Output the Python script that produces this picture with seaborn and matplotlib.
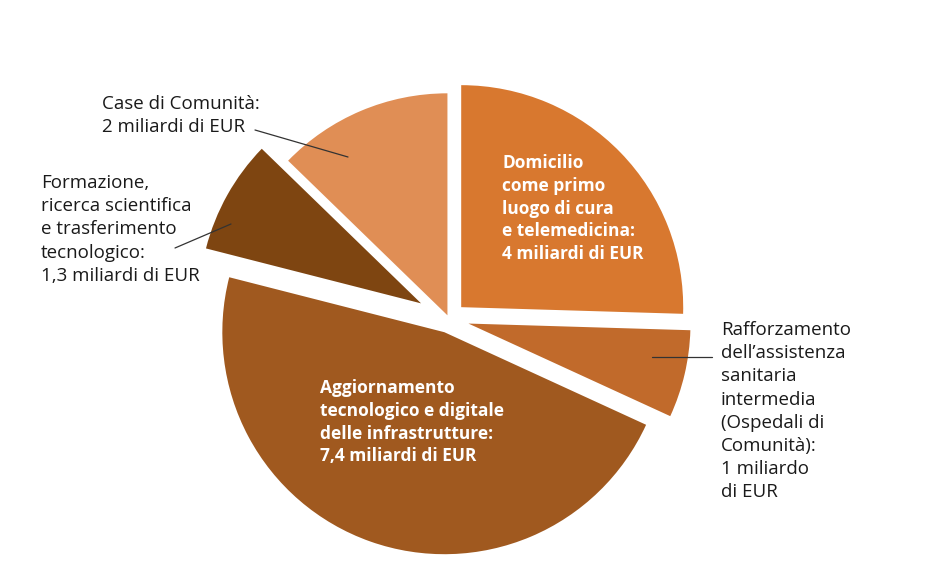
import matplotlib
matplotlib.use("Agg")
import matplotlib.pyplot as plt
import seaborn as sns

# values in billion EUR, clockwise from 12 o'clock
categories = ["Domicilio", "Rafforzamento", "Aggiornamento", "Formazione", "Case"]
values = [4.0, 1.0, 7.4, 1.3, 2.0]
colors = ["#D8782F", "#C16A2B", "#A0591F", "#7E4511", "#E08E55"]
explode_px = [17, 20, 14, 32, 4]

sns.set_theme(style="white")
plt.rcParams["font.family"] = ["Open Sans", "DejaVu Sans"]

W, H = 945, 582
fig = plt.figure(figsize=(W / 100, H / 100), dpi=100)
ax = fig.add_axes([0, 0, 1, 1])

# work in pixel units (y up)
cx, cy, r = 449, H - 319, 222
ax.pie(values, colors=colors, explode=explode_px, center=(cx, cy), radius=r,
       startangle=90, counterclock=False, wedgeprops=dict(linewidth=0))
ax.set_xlim(0, W)
ax.set_ylim(0, H)
ax.set_aspect("equal")
ax.axis("off")

txt = dict(fontsize=13.5, color="#1a1a1a", va="top", ha="left", linespacing=1.37)
bold = dict(fontsize=12.5, color="white", va="top", ha="left", linespacing=1.34,
            fontweight="bold")

ax.text(102, H - 95, "Case di Comunità:\n2 miliardi di EUR", **txt)
ax.text(41, H - 174, "Formazione,\nricerca scientifica\ne trasferimento\ntecnologico:\n1,3 miliardi di EUR", **txt)
ax.text(721, H - 321, "Rafforzamento\ndell’assistenza\nsanitaria\nintermedia\n(Ospedali di\nComunità):\n1 miliardo\ndi EUR", **txt)
ax.text(502, H - 154, "Domicilio\ncome primo\nluogo di cura\ne telemedicina:\n4 miliardi di EUR", **bold)
ax.text(320, H - 379, "Aggiornamento\ntecnologico e digitale\ndelle infrastrutture:\n7,4 miliardi di EUR", **bold)

lk = dict(color="#333333", lw=0.9)
ax.plot([255, 348], [H - 130, H - 157], **lk)
ax.plot([175, 231], [H - 248, H - 224], **lk)
ax.plot([652, 712], [H - 357, H - 357], **lk)

fig.savefig("out.png", dpi=100, facecolor="white")
